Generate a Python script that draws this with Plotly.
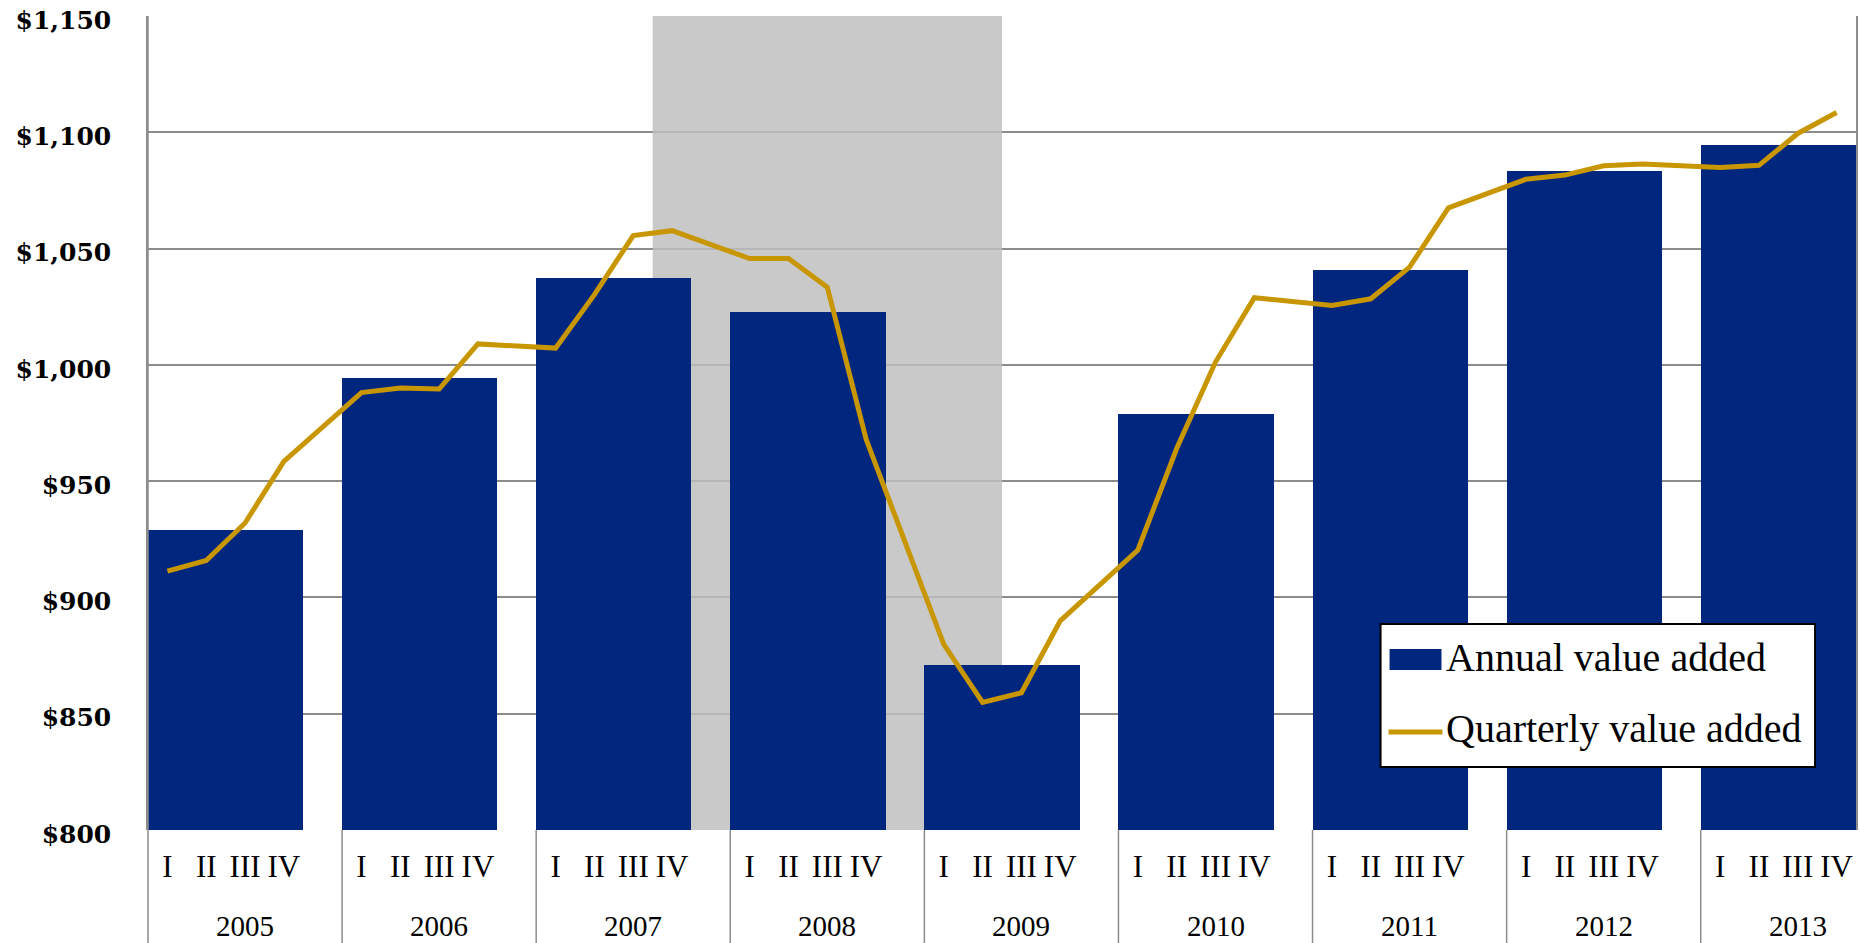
import plotly.graph_objects as go

# ---- data -------------------------------------------------------------
years = ["2005", "2006", "2007", "2008", "2009", "2010", "2011", "2012", "2013"]
quarters = ["I", "II", "III", "IV"]

# annual value added (billions of dollars)
annual = [929.2, 994.2, 1037.2, 1022.8, 870.8, 978.7, 1040.6, 1083.3, 1094.5]

# quarterly value added, four values per year
quarterly = [
    911.3, 915.9, 932.0, 958.5,
    988.1, 990.0, 989.6, 1009.0,
    1007.2, 1030.2, 1055.6, 1057.7,
    1045.7, 1045.7, 1033.4, 968.0,
    879.8, 854.9, 859.0, 889.9,
    920.4, 964.0, 1001.2, 1028.9,
    1025.5, 1028.4, 1042.0, 1067.5,
    1079.8, 1081.6, 1085.6, 1086.4,
    1084.9, 1085.8, 1099.5, 1108.5,
]

y_ticks = [800, 850, 900, 950, 1000, 1050, 1100, 1150]
y_tick_labels = ["$800", "$850", "$900", "$950", "$1,000", "$1,050", "$1,100", "$1,150"]

# recession period: first and last quarter (year, quarter)
recession_start = ("2007", "IV")
recession_end = ("2009", "II")

# ---- styling ------------------------------------------------------------
NAVY = "#00267E"
GOLD = "#C89600"
GRID = "#8C8C8C"
SERIF = "Liberation Serif"

FIG_W, FIG_H = 1860, 943
M_L, M_R, M_T, M_B = 148, 2, 16, 113
PLOT_W = FIG_W - M_L - M_R
PLOT_H = FIG_H - M_T - M_B

SLOTS_PER_YEAR = 5          # four quarters plus one empty spacer slot
X_MAX = SLOTS_PER_YEAR * (len(years) - 1) + 4


def qslot(yi, qi):
    """Left edge of the slot holding quarter qi of year yi."""
    return SLOTS_PER_YEAR * yi + qi


def paper_x(px):
    return (px - M_L) / PLOT_W


def paper_y(py):
    return (FIG_H - M_B - py) / PLOT_H


q_x = [qslot(yi, qi) + 0.5 for yi in range(len(years)) for qi in range(len(quarters))]
q_text = [quarters[qi] for yi in range(len(years)) for qi in range(len(quarters))]
bar_x = [qslot(yi, 0) + 2 for yi in range(len(years))]

fig = go.Figure()

fig.add_trace(go.Bar(
    x=bar_x, y=[v - y_ticks[0] for v in annual], base=y_ticks[0],
    width=4, marker=dict(color=NAVY, line=dict(width=0)),
    name="Annual value added", showlegend=False,
    customdata=annual, hovertemplate="%{customdata}<extra></extra>",
))

fig.add_trace(go.Scatter(
    x=q_x, y=quarterly, mode="lines",
    line=dict(color=GOLD, width=5),
    name="Quarterly value added", showlegend=False,
))

# recession shading (above the grid, beneath the bars)
rs = qslot(years.index(recession_start[0]), quarters.index(recession_start[1]))
re_ = qslot(years.index(recession_end[0]), quarters.index(recession_end[1])) + 1
fig.add_shape(type="rect", xref="x", yref="y", x0=rs, x1=re_,
              y0=y_ticks[0], y1=y_ticks[-1], layer="between",
              fillcolor="rgba(190,190,190,0.83)", line=dict(width=0))

# category separators running down through the label area
bottom = -M_B / PLOT_H
for yi in range(len(years)):
    fig.add_shape(type="line", xref="paper", yref="paper",
                  x0=qslot(yi, 0) / X_MAX, x1=qslot(yi, 0) / X_MAX,
                  y0=bottom, y1=0 if yi else 1,
                  line=dict(color=GRID, width=1.5), layer="above")

# year labels centred under each five-slot group
for yi, yr in enumerate(years):
    fig.add_annotation(x=qslot(yi, 0) + SLOTS_PER_YEAR / 2, xref="x",
                       y=paper_y(926), yref="paper", text=yr, showarrow=False,
                       xanchor="center", yanchor="middle",
                       font=dict(family=SERIF, size=29, color="black"))

# legend box
fig.add_shape(type="rect", xref="paper", yref="paper",
              x0=paper_x(1382), x1=paper_x(1817), y0=paper_y(767), y1=paper_y(624),
              fillcolor="white", line=dict(color="black", width=2), layer="above")
fig.add_shape(type="rect", xref="paper", yref="paper",
              x0=paper_x(1391), x1=paper_x(1443), y0=paper_y(670), y1=paper_y(649),
              fillcolor=NAVY, line=dict(width=0), layer="above")
fig.add_shape(type="line", xref="paper", yref="paper",
              x0=paper_x(1390), x1=paper_x(1444), y0=paper_y(732), y1=paper_y(732),
              line=dict(color=GOLD, width=5), layer="above")
for label, cy in (("Annual value added", 657), ("Quarterly value added", 728)):
    fig.add_annotation(x=paper_x(1446), y=paper_y(cy), xref="paper", yref="paper",
                       text=label, showarrow=False, xanchor="left", yanchor="middle",
                       font=dict(family=SERIF, size=40, color="black"))

fig.update_layout(
    width=FIG_W, height=FIG_H,
    margin=dict(l=M_L, r=M_R, t=M_T, b=M_B, pad=0),
    paper_bgcolor="white", plot_bgcolor="white",
    bargap=0, showlegend=False,
    xaxis=dict(range=[0, X_MAX], showgrid=False, zeroline=False, showline=False,
               tickmode="array", tickvals=q_x, ticktext=q_text, ticks="",
               tickfont=dict(family=SERIF, size=31, color="black"),
               ticklabelstandoff=15),
    yaxis=dict(range=[y_ticks[0], y_ticks[-1]], tickmode="array", tickvals=y_ticks,
               ticktext=y_tick_labels, ticks="",
               showgrid=True, gridcolor=GRID, gridwidth=1.5, zeroline=False,
               showline=True, linecolor=GRID, linewidth=1.5, mirror=True,
               tickfont=dict(family="DejaVu Serif", size=25, color="black", weight="bold"),
               ticklabelstandoff=30, ticklabelshift=4, ticklabeloverflow="allow"),
)

fig.write_html("out.html")
